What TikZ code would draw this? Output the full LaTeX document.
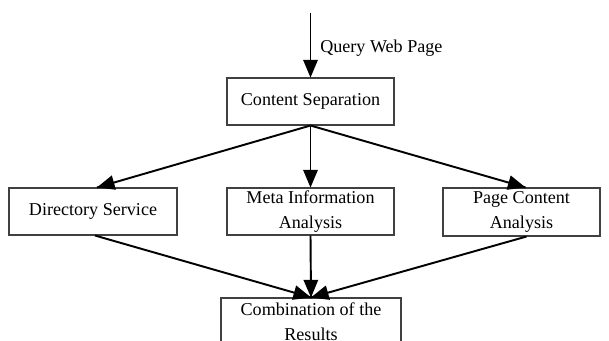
\documentclass[tikz,border=0pt]{standalone}
\usepackage{fontspec}
\setmainfont{Liberation Serif}
\usepackage{tikz}
\usetikzlibrary{arrows}
\usetikzlibrary{decorations.markings}
\usetikzlibrary{positioning}
\tikzset{->/.style = {decoration={markings,
                                  mark=at position 1 with {\arrow[scale=1.1]{triangle 45}}},
                      postaction={decorate}}}
\tikzset{box/.style = {draw=black!75, line width=0.6pt, inner sep=0pt,
                       minimum width=3.34cm, minimum height=0.94cm, align=center,
                       font=\fontsize{10.3}{14}\selectfont}}
\tikzset{flow/.style = {->, black, line width=1.1pt}}

\begin{document}
\begin{tikzpicture}[x=0.02cm, y=-0.02cm]
      \useasboundingbox (0, 0) rectangle (609, 341);
      \clip (0, 0) rectangle (609, 341);

      \node [box] (sep) at (310.5, 101.5) {Content Separation};
      \node [box, minimum width=3.36cm] (dir) at (93, 211.5) {Directory Service};
      \node [box] (meta) at (310.5, 211.5) {Meta Information\\Analysis};
      \node [box, minimum width=3.14cm, minimum height=0.96cm] (page) at (521.5, 212) {Page Content\\Analysis};
      \node [box, minimum width=3.6cm] (comb) at (311, 321.5) {Combination of the\\Results};

      \coordinate (query) at (310.5, 13);
      \draw [flow] (query) -- (sep.north)
            node [midway, right, font=\fontsize{10.3}{14}\selectfont, xshift=0.06cm, yshift=-0.06cm] {Query Web Page};

      \draw [flow] (sep.south) -- ([xshift=0.08cm]dir.north);
      \draw [flow] (sep.south) -- (meta.north);
      \draw [flow] (sep.south) -- ([xshift=0.08cm]page.north);

      \draw [flow] ([xshift=0.04cm]dir.south) -- (comb.north);
      \draw [flow] (meta.south) -- (comb.north);
      \draw [flow] ([xshift=0.1cm]page.south) -- (comb.north);

    \end{tikzpicture}
\end{document}
